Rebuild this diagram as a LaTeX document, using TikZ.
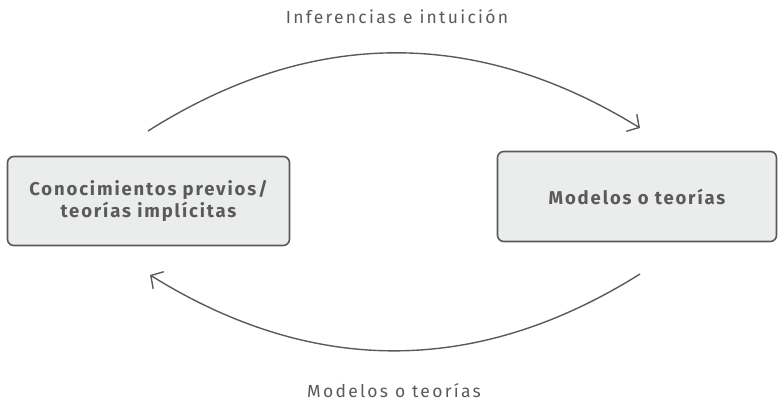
\documentclass[tikz,border=0pt]{standalone}
\usepackage{fontspec}
\setmainfont{Fira Sans}[LetterSpace=7]
\newfontfamily\boxfont{Fira Sans}[LetterSpace=10]
\newfontfamily\lblfont{Fira Sans}[LetterSpace=13]
\usepackage{tikz}
\usetikzlibrary{arrows.meta}
\definecolor{txtgray}{HTML}{5A5A5A}
\definecolor{boxfill}{HTML}{EBECEC}
\tikzstyle{box}=[draw=txtgray, fill=boxfill, line width=1.6pt, rounded corners=2.2mm, align=center, font=\boxfont\fontsize{18.5}{22}\selectfont\bfseries, text=txtgray]
\tikzstyle{lbl}=[font=\lblfont\fontsize{17.5}{20}\selectfont, text=txtgray]
\tikzstyle{arc}=[draw=txtgray, line width=1.4pt, -{Straight Barb[length=9pt, width=20pt, line width=1.4pt]}]

\begin{document}
\begin{tikzpicture}[x=1pt, y=1pt]
  \useasboundingbox (0,0) rectangle (778,401);
  \node[box, minimum width=282pt, minimum height=89pt] (prev) at (148.5,200) {Conocimientos previos/\\teorías implícitas};
  \node[box, minimum width=279pt, minimum height=90pt] (mod) at (637,204.5) {Modelos o teorías};
  \coordinate (a1) at (148,270);
  \coordinate (a2) at (640,273);
  \coordinate (b1) at (640,127);
  \coordinate (b2) at (150,126);
  \draw[arc] (a1) to[bend left=32] (a2);
  \draw[arc] (b1) to[bend left=32] (b2);
  \node[lbl] (top) at (397,384) {Inferencias e intuición};
  \node[lbl] (bot) at (394,10) {Modelos o teorías};
\end{tikzpicture}
\end{document}
